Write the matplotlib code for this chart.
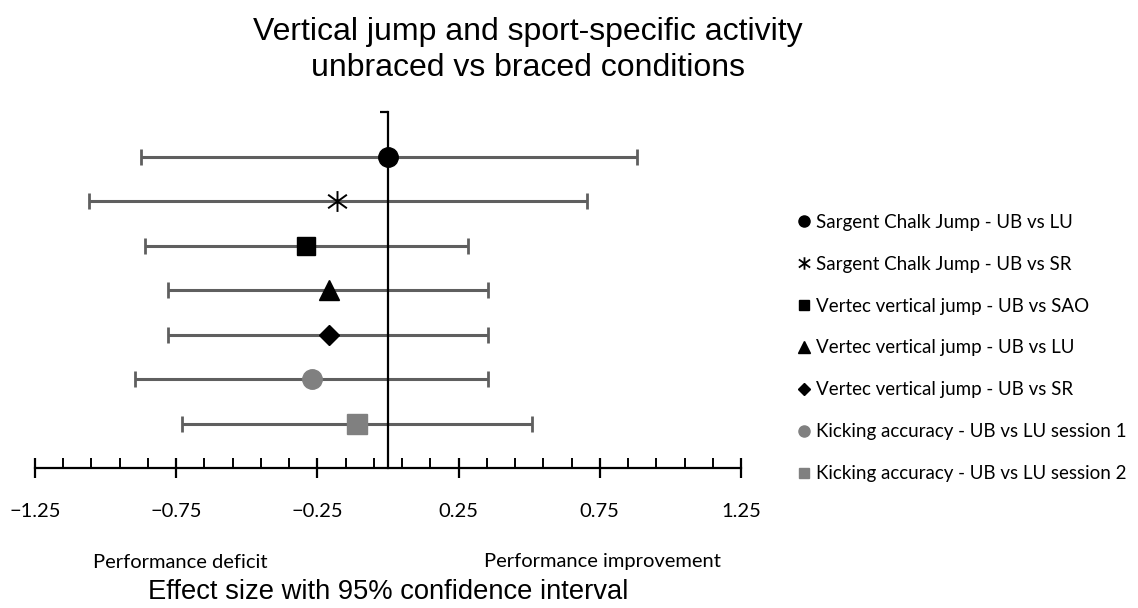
import matplotlib
matplotlib.use("Agg")
import matplotlib.pyplot as plt
from matplotlib.lines import Line2D
from matplotlib.path import Path

# Effect sizes (UB vs braced) with 95% CI, top row first
labels = [
    "Sargent Chalk Jump - UB vs LU",
    "Sargent Chalk Jump - UB vs SR",
    "Vertec vertical jump - UB vs SAO",
    "Vertec vertical jump - UB vs LU",
    "Vertec vertical jump - UB vs SR",
    "Kicking accuracy - UB vs LU session 1",
    "Kicking accuracy - UB vs LU session 2",
]
effect = [0.0, -0.18, -0.29, -0.21, -0.21, -0.27, -0.11]
ci_low = [-0.875, -1.06, -0.86, -0.78, -0.78, -0.895, -0.73]
ci_high = [0.88, 0.705, 0.285, 0.355, 0.355, 0.355, 0.51]
rows = [7, 6, 5, 4, 3, 2, 1]

xtick_vals = [-1.25, -0.75, -0.25, 0.25, 0.75, 1.25]
xtick_text = ["\u22121.25", "\u22120.75", "\u22120.25", "0.25", "0.75", "1.25"]

# asterisk-like marker: vertical bar plus an X
star = Path([(0, -1), (0, 1), (-0.9, -0.65), (0.9, 0.65), (-0.9, 0.65), (0.9, -0.65)],
            [Path.MOVETO, Path.LINETO, Path.MOVETO, Path.LINETO, Path.MOVETO, Path.LINETO])

markers = ["o", star, "s", "^", "D", "o", "s"]
colors = ["black", "black", "black", "black", "black", "#808080", "#808080"]
sizes = [14, 15, 13, 14, 10, 14, 14]
leg_sizes = [8, 8, 7, 8, 6, 8, 7]

sans = ["Lato", "DejaVu Sans"]
arial = ["Liberation Sans", "DejaVu Sans"]

fig = plt.figure(figsize=(11.38, 6.08), dpi=100)
ax = fig.add_axes([35 / 1138, 1 - 468 / 608, 706 / 1138, 356 / 608])

for i in range(len(labels)):
    ax.errorbar(effect[i], rows[i],
                xerr=[[effect[i] - ci_low[i]], [ci_high[i] - effect[i]]],
                fmt="none", ecolor="#5f5f5f", elinewidth=2.2, capsize=5.5,
                capthick=2, zorder=2)
    if markers[i] is star:
        ax.plot(effect[i], rows[i], marker=star, ms=sizes[i], mfc="none",
                mec=colors[i], mew=1.4, ls="none", zorder=4)
    else:
        ax.plot(effect[i], rows[i], marker=markers[i], ms=sizes[i],
                color=colors[i], mec=colors[i], ls="none", zorder=4)

ax.set_xlim(-1.25, 1.25)
ax.set_ylim(0, 8)

for s in ["top", "right"]:
    ax.spines[s].set_visible(False)
ax.spines["left"].set_position(("data", 0))
ax.spines["left"].set_linewidth(1.6)
ax.spines["left"].set_zorder(3)
ax.spines["bottom"].set_linewidth(1.6)

ax.set_yticks([8])
ax.set_yticklabels([])
ax.tick_params(axis="y", direction="out", length=6, width=1.6)

ax.set_xticks(xtick_vals)
ax.set_xticklabels(xtick_text, family=sans, fontsize=14.5)
ax.set_xticks([round(-1.25 + 0.1 * k, 2) for k in range(26)], minor=True)
ax.tick_params(axis="x", which="major", direction="inout", length=14, width=1.6, pad=18)
ax.tick_params(axis="x", which="minor", direction="in", length=7, width=1.4)

fig.text(528 / 1138, 1 - 50 / 608,
         "Vertical jump and sport-specific activity\nunbraced vs braced conditions",
         ha="center", va="center", family=arial, fontsize=23, linespacing=1.25)

fig.text(180 / 1138, 1 - 562 / 608, "Performance deficit", ha="center", va="center",
         family=sans, fontsize=14.5)
fig.text(602 / 1138, 1 - 562 / 608, "Performance improvement", ha="center", va="center",
         family=sans, fontsize=14.5)
fig.text(388 / 1138, 1 - 592 / 608, "Effect size with 95% confidence interval",
         ha="center", va="center", family=arial, fontsize=19.7)

handles = []
for i in range(len(labels)):
    if markers[i] is star:
        h = Line2D([], [], marker=star, ms=leg_sizes[i] + 1, mfc="none", mec="black",
                   mew=1.3, ls="none")
    else:
        h = Line2D([], [], marker=markers[i], ms=leg_sizes[i], color=colors[i], ls="none")
    handles.append(h)
fig.legend(handles, labels, loc="center left", bbox_to_anchor=(786 / 1138, 1 - 348 / 608),
           frameon=False, prop={"family": sans, "size": 13.5}, handletextpad=0.1,
           handlelength=1.1, labelspacing=1.33, borderaxespad=0)

fig.savefig("out.png", dpi=100)
